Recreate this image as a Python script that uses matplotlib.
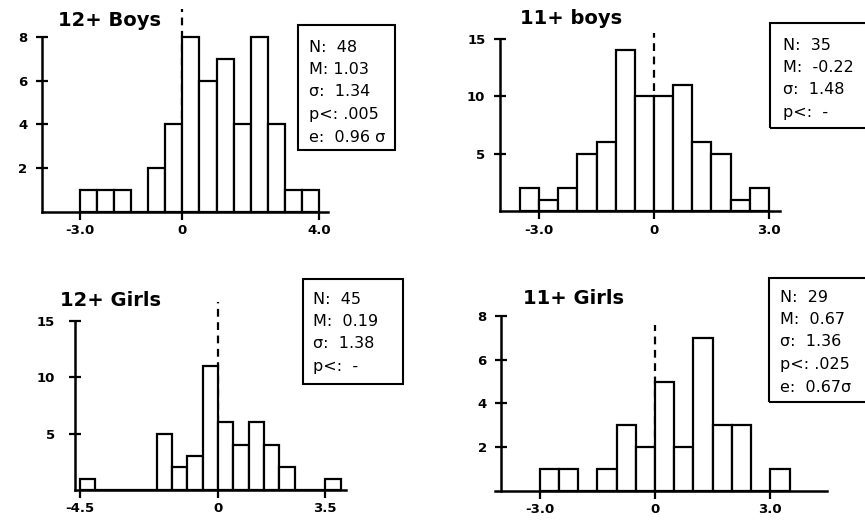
import numpy as np
import matplotlib
matplotlib.use("Agg")
import matplotlib.pyplot as plt
from matplotlib.patches import Rectangle

# histogram data: first bin edge, bin width 0.5, counts per bin
boys12_start = -3.0
boys12_counts = [1, 1, 1, 0, 2, 4, 8, 6, 7, 4, 8, 4, 1, 1]
boys11_start = -3.5
boys11_counts = [2, 1, 2, 5, 6, 14, 10, 10, 11, 6, 5, 1, 2]
girls12_start = -4.5
girls12_counts = [1, 0, 0, 0, 0, 5, 2, 3, 11, 6, 4, 6, 4, 2, 0, 0, 1]
girls11_start = -3.0
girls11_counts = [1, 1, 0, 1, 3, 2, 5, 2, 7, 3, 3, 0, 1]
bin_width = 0.5

titles = ["12+ Boys", "11+ boys", "12+ Girls", "11+ Girls"]
xticks = [[-3.0, 0, 4.0], [-3.0, 0, 3.0], [-4.5, 0, 3.5], [-3.0, 0, 3.0]]
xticklabels = [["-3.0", "0", "4.0"], ["-3.0", "0", "3.0"],
               ["-4.5", "0", "3.5"], ["-3.0", "0", "3.0"]]
yticks = [[2, 4, 6, 8], [5, 10, 15], [5, 10, 15], [2, 4, 6, 8]]
stats = [
    ["N:  48", "M: 1.03", "σ:  1.34", "p<: .005", "e:  0.96 σ"],
    ["N:  35", "M:  -0.22", "σ:  1.48", "p<:  -"],
    ["N:  45", "M:  0.19", "σ:  1.38", "p<:  -"],
    ["N:  29", "M:  0.67", "σ:  1.36", "p<: .025", "e:  0.67σ"],
]

W, H = 865, 526
fig = plt.figure(figsize=(W / 100, H / 100), dpi=100)
fig.patch.set_facecolor("white")

# layout in pixels: data origin (x0, y0), px per unit, limits
layout = [
    dict(x0=182.4, y0=211.7, xs=34.14, ys=21.8, xlim=(-4.11, 4.26), ylim=(0, 9.4), ysp=None, dash=9.3, ypad=6),
    dict(x0=654.0, y0=211.0, xs=38.33, ys=11.47, xlim=(-4.02, 3.29), ylim=(0, 16), ysp=None, dash=15.5, ypad=6),
    dict(x0=218.0, y0=490.0, xs=30.63, ys=11.27, xlim=(-4.67, 4.18), ylim=(0, 17), ysp=None, dash=16.7, ypad=10),
    dict(x0=655.0, y0=490.7, xs=38.43, ys=21.84, xlim=(-4.16, 4.47), ylim=(0, 8.3), ysp=-4.0, dash=7.6, ypad=6),
]
title_pos = [(58, 21), (520, 18), (60, 301), (523, 299)]
box_rects = [(298, 25, 97, 125), (770, 23, 100, 105), (303, 279, 100, 105), (769, 278, 100, 124)]
text_pos = [(309, 47), (783, 45), (313, 299), (780, 297)]
line_step = 22.5

series = [(boys12_start, boys12_counts), (boys11_start, boys11_counts),
          (girls12_start, girls12_counts), (girls11_start, girls11_counts)]

for i, (start, counts) in enumerate(series):
    L = layout[i]
    left = L["x0"] + L["xlim"][0] * L["xs"]
    width = (L["xlim"][1] - L["xlim"][0]) * L["xs"]
    bottom = L["y0"] - L["ylim"][0] * L["ys"]
    height = (L["ylim"][1] - L["ylim"][0]) * L["ys"]
    ax = fig.add_axes([left / W, 1 - bottom / H, width / W, height / H])
    ax.set_xlim(*L["xlim"])
    ax.set_ylim(*L["ylim"])

    edges = start + bin_width * np.arange(len(counts))
    ax.bar(edges, counts, width=bin_width, align="edge", color="white",
           edgecolor="black", linewidth=1.6, zorder=2, clip_on=False)
    ax.plot([0, 0], [0, L["dash"]], color="black", lw=1.6,
            dashes=(3.5, 2.5), zorder=1, clip_on=False)

    for s in ["top", "right"]:
        ax.spines[s].set_visible(False)
    ax.spines["left"].set_linewidth(1.8)
    ax.spines["bottom"].set_linewidth(1.8)
    ax.spines["left"].set_bounds(0, yticks[i][-1])
    if L["ysp"] is not None:
        ax.spines["left"].set_position(("data", L["ysp"]))
    ax.set_xticks(xticks[i])
    ax.set_xticklabels(xticklabels[i])
    ax.set_yticks(yticks[i])
    ax.tick_params(axis="x", direction="out", length=6, width=1.6, pad=3,
                   labelsize=9.5)
    ax.tick_params(axis="y", direction="inout", length=9, width=1.6,
                   pad=L["ypad"], labelsize=9.5)
    for lab in ax.get_xticklabels() + ax.get_yticklabels():
        lab.set_fontweight("bold")
    ax.patch.set_visible(False)

    tx, ty = title_pos[i]
    fig.text(tx / W, 1 - ty / H, titles[i], fontsize=14, fontweight="bold",
             ha="left", va="center")

    bx, by, bw, bh = box_rects[i]
    fig.patches.append(Rectangle((bx / W, 1 - (by + bh) / H), bw / W, bh / H,
                                 transform=fig.transFigure, fill=False,
                                 edgecolor="black", linewidth=1.5))
    sx, sy = text_pos[i]
    for k, line in enumerate(stats[i]):
        fig.text(sx / W, 1 - (sy + k * line_step) / H, line, fontsize=11.5,
                 ha="left", va="center")

fig.savefig("out.png", dpi=100)
